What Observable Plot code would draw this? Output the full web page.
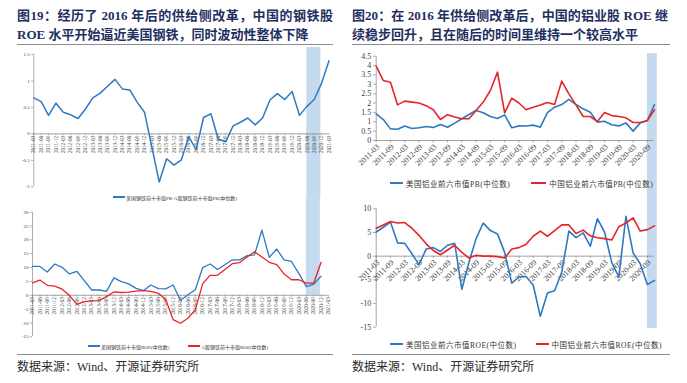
<!DOCTYPE html>
<html><head><meta charset="utf-8">
<script src="https://cdn.jsdelivr.net/npm/d3@7"></script>
<script src="https://cdn.jsdelivr.net/npm/@observablehq/plot@0.6"></script>
<style>
body{margin:0;background:#fff;width:687px;height:383px;position:relative;overflow:hidden;font-family:'Liberation Serif','Noto Sans CJK SC',serif;}
.title{position:absolute;font-weight:bold;font-size:13px;color:#1f2f5f;white-space:nowrap;line-height:16px;}
.just{text-align:justify;text-align-last:justify;}
.rule{position:absolute;height:0;border-top:1px solid #8c8c8c;}
.src{position:absolute;font-size:12px;color:#2a2a2a;line-height:14px;white-space:nowrap;}
.leg{position:absolute;white-space:nowrap;color:#333;display:flex;align-items:center;}
.sw{display:inline-block;}
.chart{position:absolute;}
</style>
</head><body>
<div class="title just" style="left:17px;top:8px;width:316px;">图19：经历了 2016 年后的供给侧改革，中国的钢铁股</div>
<div class="title" style="left:17px;top:27px;">ROE 水平开始逼近美国钢铁，同时波动性整体下降</div>
<div class="title just" style="left:352px;top:8px;width:316px;">图20：在 2016 年供给侧改革后，中国的铝业股 ROE 继</div>
<div class="title" style="left:352px;top:27px;">续稳步回升，且在随后的时间里维持一个较高水平</div>
<div class="rule" style="left:17px;top:44px;width:316px;"></div>
<div class="rule" style="left:352px;top:44px;width:318px;"></div>

<div id="tl" class="chart" style="left:0;top:46px;"></div>
<div id="bl" class="chart" style="left:0;top:198px;"></div>
<div id="tr" class="chart" style="left:345px;top:46px;"></div>
<div id="br" class="chart" style="left:345px;top:196px;"></div>

<div class="leg" style="left:113px;top:194px;height:6px;font-size:5px;">
  <span class="sw" style="width:12px;height:1.3px;background:#2e7ac0;margin-right:1px;"></span><span id="lg1"></span>
</div>
<div class="leg" style="left:88px;top:343px;height:6px;font-size:5px;">
  <span class="sw" style="width:12px;height:1.3px;background:#2e7ac0;margin-right:1px;"></span><span id="lg2"></span>
  <span class="sw" style="width:12px;height:1.3px;background:#e5252a;margin-left:19px;margin-right:1px;"></span><span id="lg3"></span>
</div>
<div class="leg" style="left:390px;top:178px;height:10px;font-size:7.5px;letter-spacing:0.5px;">
  <span class="sw" style="width:13px;height:2px;background:#2e7ac0;margin-right:3px;"></span><span id="lg4"></span>
  <span class="sw" style="width:15px;height:2px;background:#e5252a;margin-left:21px;margin-right:3px;"></span><span id="lg5"></span>
</div>
<div class="leg" style="left:390px;top:339px;height:10px;font-size:7.5px;letter-spacing:0.5px;">
  <span class="sw" style="width:13px;height:2px;background:#2e7ac0;margin-right:3px;"></span><span id="lg6"></span>
  <span class="sw" style="width:13px;height:2px;background:#e5252a;margin-left:19px;margin-right:3px;"></span><span id="lg7"></span>
</div>

<div class="rule" style="left:17px;top:354px;width:316px;"></div>
<div class="rule" style="left:352px;top:354px;width:318px;"></div>
<div class="src" style="left:17px;top:360px;">数据来源：Wind、开源证券研究所</div>
<div class="src" style="left:352px;top:360px;">数据来源：Wind、开源证券研究所</div>

<script>
// ---------- categories ----------
const steelQuarters = ["2011-03","2011-06","2011-09","2011-12","2012-03","2012-06","2012-09","2012-12",
  "2013-03","2013-06","2013-09","2013-12","2014-03","2014-06","2014-09","2014-12",
  "2015-03","2015-06","2015-09","2015-12","2016-03","2016-06","2016-09","2016-12",
  "2017-03","2017-06","2017-09","2017-12","2018-03","2018-06","2018-09","2018-12",
  "2019-03","2019-06","2019-09","2019-12","2020-03","2020-06","2020-09","2020-12","2021-03"];
const alQuarters = ["2011-03","2011-06","2011-09","2011-12","2012-03","2012-06","2012-09","2012-12",
  "2013-03","2013-06","2013-09","2013-12","2014-03","2014-06","2014-09","2014-12",
  "2015-03","2015-06","2015-09","2015-12","2016-03","2016-06","2016-09","2016-12",
  "2017-03","2017-06","2017-09","2017-12","2018-03","2018-06","2018-09","2018-12",
  "2019-03","2019-06","2019-09","2019-12","2020-03","2020-06","2020-09","2020-12"];
const alTickLabels = ["2011-03","2011-09","2012-03","2012-09","2013-03","2013-09","2014-03","2014-09",
  "2015-03","2015-09","2016-03","2016-09","2017-03","2017-09","2018-03","2018-09",
  "2019-03","2019-09","2020-03","2020-09"];

// ---------- series ----------
const steelPBDiff = [0.68,0.61,0.35,0.58,0.41,0.36,0.29,0.47,0.68,0.77,0.9,1.03,0.85,0.83,0.6,0.41,
  -0.25,-0.91,-0.47,-0.59,-0.49,-0.05,-0.3,0.31,0.38,-0.1,-0.15,0.15,0.22,0.3,0.17,0.3,
  0.64,0.76,0.65,0.8,0.35,0.52,0.65,0.96,1.38];
const steelROE_US = [10.4,10.4,8.4,11.3,10.1,7.7,8.6,5.3,1.9,1.9,1.4,6.3,4.9,4.1,2.5,1.7,
  3.7,2.4,2.3,3.7,-1.8,0.2,2.0,10.0,11.3,9.3,11.0,12.8,12.8,14.3,14.6,23.5,
  13.7,16.7,12.8,12.2,7.8,3.1,4.0,6.9];
const steelROE_CN = [4.5,5.5,3.6,3.3,2.2,-0.1,-3.3,-2.3,-2.0,-1.9,-0.5,1.2,1.0,1.1,1.5,1.7,
  1.4,0.7,-1.5,-8.8,-10.1,-8.3,-5.3,4.2,7.2,7.2,9.3,11.4,11.8,13.8,15.7,13.8,
  11.9,11.1,7.7,5.6,5.6,4.4,4.4,11.9];
const alPB_US = [1.42,1.12,0.62,0.6,0.77,0.64,0.68,0.75,0.69,0.85,0.71,0.93,1.16,1.39,1.6,1.48,
  1.28,1.17,1.37,0.68,0.78,0.77,0.82,0.71,1.49,1.78,1.92,2.2,1.92,1.69,1.51,0.98,
  1.03,0.84,0.78,0.94,0.5,0.94,1.07,1.92];
const alPB_CN = [3.97,3.2,3.11,1.9,2.1,2.05,2.0,1.86,1.64,1.12,1.38,1.25,1.16,1.16,1.6,2.05,
  2.67,3.65,1.48,2.26,2.0,1.64,1.78,1.89,2.03,1.92,3.17,2.49,1.9,1.28,1.28,1.01,
  1.49,1.33,1.28,1.21,0.96,0.96,1.07,1.64];
const alROE_US = [5.1,6.1,7.2,2.8,2.7,0.5,-1.8,1.5,1.8,1.0,2.3,2.7,-7.0,-1.3,3.7,7.0,
  5.4,4.7,0.8,-5.7,-4.4,-4.3,-6.1,-12.7,-7.8,-7.3,-3.4,5.3,3.9,4.9,2.1,7.9,
  5.1,-1.3,-4.4,8.4,0.7,-1.6,-6.0,-5.1];
const alROE_CN = [5.9,6.6,7.3,7.0,7.1,5.9,4.4,2.6,1.2,0.3,1.3,2.3,0.8,-0.4,0.2,0.0,
  0.0,-0.1,-0.4,1.5,1.8,2.5,4.2,5.3,4.2,5.4,6.6,6.6,4.8,5.5,4.3,3.9,
  3.7,3.4,6.2,7.0,8.1,5.3,5.6,6.4];

// ---------- tick values ----------
const ticksPB = [-1,-0.5,0,0.5,1,1.5];
const ticksSteelROE = [-15,-10,-5,0,5,10,15,20,25,30];
const ticksAlPB = [0,0.5,1,1.5,2,2.5,3,3.5,4,4.5];
const ticksAlROE = [-15,-10,-5,0,5,10];

// ---------- legend names ----------
const names = {
  lg1: "美国钢铁前十市值PB-A股钢铁前十市值PB(中位数)",
  lg2: "美国钢铁前十市值ROE(中位数)",
  lg3: "A股钢铁前十市值ROE(中位数)",
  lg4: "美国铝业前六市值PB(中位数)",
  lg5: "中国铝业前六市值PB(中位数)",
  lg6: "美国铝业前六市值ROE(中位数)",
  lg7: "中国铝业前六市值ROE(中位数)"
};
for (const k in names) document.getElementById(k).textContent = names[k];

const BLUE = "#2e7ac0", RED = "#e5252a", BAND = "#c5daee", AXIS = "#8c8c8c", TXT = "#404040";
const FONT = "'Liberation Serif','Noto Sans CJK SC',serif";
const rows = (cats, vals) => vals.map((v, i) => ({i, cat: cats[i], v}));
const idx = (cats, c) => cats.indexOf(c);

// shaded periods
const steelBandTop = {x1: idx(steelQuarters,"2020-06"), x2: idx(steelQuarters,"2020-12") - 0.1, y1: -1.22, y2: 1.632};
const steelBandBot = {x1: idx(steelQuarters,"2020-06"), x2: idx(steelQuarters,"2020-12") - 0.1, y1: 0, y2: 35};
const alBandTop = {x1: idx(alQuarters,"2020-09"), x2: idx(alQuarters,"2020-12") + 0.4, y1: -2.99, y2: 4.64};
const alBandBot = {x1: idx(alQuarters,"2020-09"), x2: idx(alQuarters,"2020-12") + 0.4, y1: -15.27, y2: 12.6};

const baseStyle = {background: "transparent", overflow: "visible", fontFamily: FONT};

// ---- top-left: steel PB difference ----
document.getElementById("tl").append(Plot.plot({
  width: 345, height: 152, marginTop: 8, marginBottom: 11.7, marginLeft: 33.3, marginRight: 16.5,
  x: {domain: [0, 40], axis: null}, y: {domain: [-1, 1.5], axis: null}, style: baseStyle,
  marks: [
    Plot.rect([steelBandTop], {x1: "x1", x2: "x2", y1: "y1", y2: "y2", fill: BAND}),
    Plot.ruleX([0], {y1: -1, y2: 1.5, stroke: AXIS, strokeWidth: 0.7}),
    Plot.ruleY(ticksPB, {y: d => d, x1: -0.3, x2: 0, stroke: AXIS, strokeWidth: 0.7}),
    Plot.text(ticksPB, {x: 0, y: d => d, text: d => String(d), textAnchor: "end", dx: -4, fontSize: 5, fill: TXT}),
    Plot.ruleY([0], {stroke: "#7a7a7a", strokeWidth: 0.7}),
    Plot.ruleX(steelQuarters, {x: (d, i) => i, y1: 0, y2: -0.035, stroke: "#7a7a7a", strokeWidth: 0.5}),
    Plot.text(steelQuarters, {x: (d, i) => i, y: 0, text: d => d, rotate: -90, textAnchor: "end", dy: 2, fontSize: 5.2, fill: TXT}),
    Plot.line(rows(steelQuarters, steelPBDiff), {x: "i", y: "v", stroke: BLUE, strokeWidth: 1.5})
  ]
}));

// ---- bottom-left: steel ROE ----
document.getElementById("bl").append(Plot.plot({
  width: 345, height: 150, marginTop: 13.7, marginBottom: 11.7, marginLeft: 32, marginRight: 17,
  x: {domain: [0, 40], axis: null}, y: {domain: [-15, 30], axis: null}, style: baseStyle,
  marks: [
    Plot.rect([steelBandBot], {x1: "x1", x2: "x2", y1: "y1", y2: "y2", fill: BAND}),
    Plot.ruleX([0], {y1: -15, y2: 30, stroke: AXIS, strokeWidth: 0.7}),
    Plot.ruleY(ticksSteelROE, {y: d => d, x1: -0.3, x2: 0, stroke: AXIS, strokeWidth: 0.7}),
    Plot.text(ticksSteelROE, {x: 0, y: d => d, text: d => String(d), textAnchor: "end", dx: -4, fontSize: 5, fill: TXT}),
    Plot.ruleY([0], {stroke: "#7a7a7a", strokeWidth: 0.7}),
    Plot.ruleX(steelQuarters, {x: (d, i) => i, y1: 0, y2: -0.7, stroke: "#7a7a7a", strokeWidth: 0.5}),
    Plot.text(steelQuarters, {x: (d, i) => i, y: 0, text: d => d, rotate: -90, textAnchor: "end", dy: 2, fontSize: 5.2, fill: TXT}),
    Plot.line(rows(steelQuarters, steelROE_US), {x: "i", y: "v", stroke: BLUE, strokeWidth: 1.3}),
    Plot.line(rows(steelQuarters, steelROE_CN), {x: "i", y: "v", stroke: RED, strokeWidth: 1.3})
  ]
}));

// ---- top-right: aluminium PB ----
const alTickRows = alTickLabels.map(l => ({i: idx(alQuarters, l), l}));
document.getElementById("tr").append(Plot.plot({
  width: 342, height: 150, marginTop: 9.7, marginBottom: 56, marginLeft: 30.7, marginRight: 33,
  x: {domain: [0, 39], axis: null}, y: {domain: [0, 4.5], axis: null}, style: baseStyle,
  marks: [
    Plot.rect([alBandTop], {x1: "x1", x2: "x2", y1: "y1", y2: "y2", fill: BAND}),
    Plot.ruleX([0], {y1: 0, y2: 4.5, stroke: AXIS, strokeWidth: 0.8}),
    Plot.ruleY(ticksAlPB, {y: d => d, x1: -0.35, x2: 0, stroke: AXIS, strokeWidth: 0.8}),
    Plot.text(ticksAlPB, {x: 0, y: d => d, text: d => String(d), textAnchor: "end", dx: -5, fontSize: 8, fill: TXT}),
    Plot.ruleY([0], {stroke: AXIS, strokeWidth: 0.8}),
    Plot.ruleX(alTickRows, {x: "i", y1: 0, y2: -0.12, stroke: AXIS, strokeWidth: 0.8}),
    Plot.text(alTickRows, {x: "i", y: 0, text: "l", rotate: -45, textAnchor: "end", dx: 2, dy: 5, fontSize: 8, fill: TXT}),
    Plot.line(rows(alQuarters, alPB_US), {x: "i", y: "v", stroke: BLUE, strokeWidth: 1.6}),
    Plot.line(rows(alQuarters, alPB_CN), {x: "i", y: "v", stroke: RED, strokeWidth: 1.6})
  ]
}));

// ---- bottom-right: aluminium ROE ----
document.getElementById("br").append(Plot.plot({
  width: 342, height: 140, marginTop: 12.3, marginBottom: 9.3, marginLeft: 30.7, marginRight: 33,
  x: {domain: [0, 39], axis: null}, y: {domain: [-15, 10], axis: null}, style: baseStyle,
  marks: [
    Plot.rect([alBandBot], {x1: "x1", x2: "x2", y1: "y1", y2: "y2", fill: BAND}),
    Plot.ruleX([0], {y1: -15, y2: 10, stroke: AXIS, strokeWidth: 0.8}),
    Plot.ruleY(ticksAlROE, {y: d => d, x1: -0.35, x2: 0, stroke: AXIS, strokeWidth: 0.8}),
    Plot.text(ticksAlROE, {x: 0, y: d => d, text: d => String(d), textAnchor: "end", dx: -5, fontSize: 8, fill: TXT}),
    Plot.ruleY([0], {stroke: AXIS, strokeWidth: 0.8}),
    Plot.ruleX(alTickRows, {x: "i", y1: 0, y2: -0.45, stroke: AXIS, strokeWidth: 0.8}),
    Plot.text(alTickRows, {x: "i", y: 0, text: "l", rotate: -45, textAnchor: "end", dx: 2, dy: 5, fontSize: 8, fill: TXT}),
    Plot.line(rows(alQuarters, alROE_US), {x: "i", y: "v", stroke: BLUE, strokeWidth: 1.6}),
    Plot.line(rows(alQuarters, alROE_CN), {x: "i", y: "v", stroke: RED, strokeWidth: 1.6})
  ]
}));
</script>
</body></html>
